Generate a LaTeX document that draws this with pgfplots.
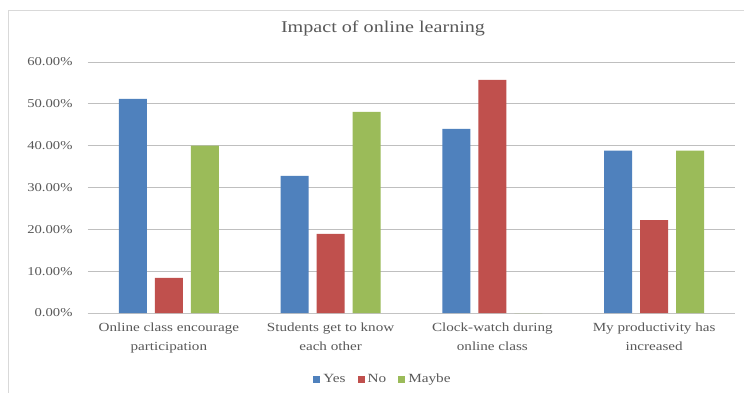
\documentclass[border=0pt]{standalone}
\usepackage{pgfplots}
\pgfplotsset{compat=1.18}
\usepackage{fontspec}
\setmainfont[FakeStretch=1.22]{Liberation Serif}
\definecolor{cYes}{HTML}{4F81BD}
\definecolor{cNo}{HTML}{C0504D}
\definecolor{cMaybe}{HTML}{9BBB59}
\definecolor{txt}{HTML}{595959}
\definecolor{grid}{HTML}{D9D9D9}
\begin{document}
\begin{tikzpicture}[x=1pt,y=1pt]
\path[use as bounding box] (0,0) rectangle (744,392);
\fill[white] (0,0) rectangle (744,392);
\draw[grid, line width=0.8pt] (8.5,-5) -- (8.5,381.5) -- (750,381.5);
\begin{axis}[
  at={(88pt,79pt)}, anchor=south west,
  scale only axis, width=647pt, height=251pt,
  ybar=8pt, bar width=28pt,
  xmin=-0.5, xmax=3.5, ymin=0, ymax=60,
  xtick={0,1,2,3},
  xticklabels={{Online class encourage\\participation},{Students get to know\\each other},{Clock-watch during\\online class},{My productivity has\\increased}},
  xticklabel style={align=center, font=\fontsize{12.4}{19.5}\selectfont, text=txt, yshift=-6pt},
  ytick={0,10,20,30,40,50,60},
  /pgf/number format/assume math mode=true,
  yticklabel={\pgfmathprintnumber[fixed,fixed zerofill,precision=2]{\tick}\%},
  yticklabel style={font=\fontsize{12}{14}\selectfont, text=txt, xshift=-12pt},
  major tick length=0pt,
  axis x line=bottom, axis y line=left,
  x axis line style={draw=grid!90!black, line width=0.8pt, -},
  y axis line style={draw=none},
  ymajorgrids, xmajorgrids=false, grid style={grid, line width=0.8pt},
  title={Impact of online learning},
  title style={font=\fontsize{16.5}{18}\selectfont, text=txt, at={(0.456,1)}, anchor=center, yshift=28pt},
  legend columns=3,
  legend style={at={(0.456,-0.263)}, anchor=center, draw=none, fill=none,
    font=\fontsize{12.5}{14}\selectfont, text=txt,
    /tikz/every odd column/.append style={column sep=1pt},
    /tikz/every even column/.append style={column sep=10pt}},
  legend image code/.code={\fill[#1] (0pt,-3.5pt) rectangle (7pt,3.5pt);},
  enlarge x limits=false,
]
\addplot[fill=cYes, draw=none] coordinates {(0,51.2) (1,32.8) (2,44.0) (3,38.8)};
\addplot[fill=cNo, draw=none] coordinates {(0,8.4) (1,18.9) (2,55.7) (3,22.2)};
\addplot[fill=cMaybe, draw=none] coordinates {(0,40.0) (1,48.1) (2,0) (3,38.8)};
\legend{Yes, No, Maybe}
\end{axis}
\end{tikzpicture}
\end{document}
